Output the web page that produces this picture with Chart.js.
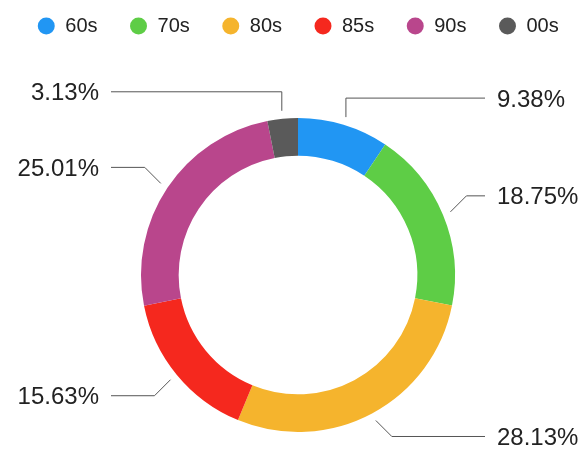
<!DOCTYPE html>
<html><head><meta charset="utf-8">
<script src="https://cdn.jsdelivr.net/npm/chart.js@4.4.0/dist/chart.umd.min.js"></script>
<style>html,body{margin:0;padding:0;background:#fff}#wrap{width:587px;height:454px}</style>
</head><body><div id="wrap"><canvas id="c" width="587" height="454"></canvas></div>
<script>
const categories = ['60s', '70s', '80s', '85s', '90s', '00s'];
const shares = [9.38, 18.75, 28.13, 15.63, 25.01, 3.13];
const colors = ['#2196F3', '#5ECD46', '#F5B42D', '#F5281E', '#B9468C', '#5A5A5A'];

const legendSpacer = {
  id: 'legendSpacer',
  beforeInit(chart) {
    const orig = chart.legend.fit;
    chart.legend.fit = function () {
      const mw = this.maxWidth;
      this.maxWidth = mw + 80;   // keep all items on one row
      orig.call(this);
      this.maxWidth = mw;
      this.width = mw;
      this.height = 112;
    };
  },
  afterLayout(chart) {
    const lg = chart.legend;
    lg.left -= 40;
    lg.right += 40;
    lg.width += 80;
  }
};

const calloutLabels = {
  id: 'calloutLabels',
  afterDatasetsDraw(chart) {
    const ctx = chart.ctx;
    const meta = chart.getDatasetMeta(0);
    meta.data.forEach((arc, i) => {
      const {x, y, startAngle, endAngle, outerRadius} = arc.getProps(['x', 'y', 'startAngle', 'endAngle', 'outerRadius'], true);
      const mid = (startAngle + endAngle) / 2;
      const dx = Math.cos(mid), dy = Math.sin(mid);
      const p0 = {x: x + dx * (outerRadius + 8), y: y + dy * (outerRadius + 8)};
      let p1;
      if (Math.abs(dx) < 0.35) {
        p1 = {x: p0.x, y: p0.y + Math.sign(dy) * 19};
      } else {
        p1 = {x: p0.x + Math.sign(dx) * 16, y: p0.y + Math.sign(dy) * 16};
      }
      const right = dx >= 0;
      const endX = right ? x + outerRadius + 30 : x - outerRadius - 30;
      ctx.save();
      ctx.strokeStyle = '#555';
      ctx.lineWidth = 1;
      ctx.beginPath();
      ctx.moveTo(p0.x, p0.y);
      ctx.lineTo(p1.x, p1.y);
      ctx.lineTo(endX, p1.y);
      ctx.stroke();
      ctx.fillStyle = '#222';
      ctx.font = '24px "Liberation Sans", Arial, sans-serif';
      ctx.textBaseline = 'middle';
      ctx.textAlign = right ? 'left' : 'right';
      ctx.fillText(shares[i].toFixed(2) + '%', right ? endX + 12 : endX - 12, p1.y + 2);
      ctx.restore();
    });
  }
};

new Chart(document.getElementById('c'), {
  type: 'doughnut',
  data: {
    labels: categories,
    datasets: [{
      data: shares,
      backgroundColor: colors,
      borderWidth: 0,
      hoverOffset: 0
    }]
  },
  options: {
    responsive: false,
    animation: false,
    radius: 157,
    cutout: '76%',
    layout: { padding: { top: -16, left: 9, right: 0, bottom: 0 } },
    plugins: {
      tooltip: { enabled: false },
      legend: {
        position: 'top',
        labels: {
          usePointStyle: true,
          pointStyle: 'circle',
          boxWidth: 18,
          boxHeight: 12,
          padding: 32,
          color: '#222',
          font: { family: '"Liberation Sans", Arial, sans-serif', size: 20 }
        }
      }
    }
  },
  plugins: [legendSpacer, calloutLabels]
});
</script>
</body></html>
